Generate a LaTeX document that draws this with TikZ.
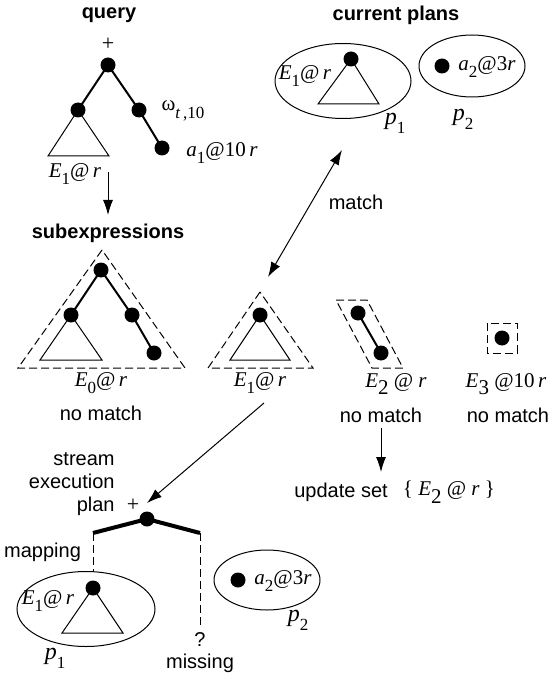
\documentclass[tikz,border=0pt]{standalone}
\usepackage{fontspec}
\setmainfont{Liberation Serif}
\setsansfont{Liberation Sans}
\usetikzlibrary{arrows.meta, positioning, calc, shapes.geometric}
\newcommand{\vsub}[1]{\raisebox{-0.8ex}{\fontsize{8.5}{8}\selectfont #1}}
\newcommand{\bigsub}[1]{\raisebox{-0.8ex}{\fontsize{10.5}{10}\selectfont #1}}
\newcommand{\expr}[2]{\textit{#1}\vsub{#2}}

\begin{document}
\begin{tikzpicture}[x=0.5pt, y=-0.5pt, every node/.style={font=\sffamily\fontsize{10}{11.5}\selectfont},
  dot/.style={circle, fill=black, inner sep=0pt, minimum size=7.5pt},
  title/.style={font=\sffamily\bfseries\fontsize{10}{12}\selectfont},
  mlabel/.style={font=\rmfamily\fontsize{10.5}{12}\selectfont, inner sep=0pt},
  pname/.style={font=\rmfamily\fontsize{12}{12}\selectfont, inner sep=0pt},
  plan/.style={draw, ellipse, line width=0.5pt, inner sep=0pt},
  hull/.style={draw, line width=0.5pt, dash pattern=on 4pt off 2pt},
  edge/.style={line width=1pt},
  tri/.style={line width=0.5pt},
  arr/.style={line width=0.5pt, -{Latex[length=7.5pt,width=5pt]}},
  darr/.style={line width=0.5pt, {Latex[length=7.5pt,width=5pt]}-{Latex[length=7.5pt,width=5pt]}}]
  \useasboundingbox (0,0) rectangle (551,684);

  \node[title] (qtitle) at (109,15) {query};
  \node[font=\rmfamily\fontsize{11}{11}\selectfont] (qplus) at (108,44) {+};
  \draw[tri] (78,110) -- (48,156) -- (109,156) -- cycle;
  \node[dot] (q0) at (108,65) {};
  \node[dot] (q1) at (78,110) {};
  \node[dot] (q2) at (139,110) {};
  \node[dot] (q3) at (162,148) {};
  \draw[edge] (q1.center) -- (q0.center) -- (q2.center) -- (q3.center);
  \node[mlabel] (qomega) at (183,111) {ω\vsub{\textit{t}\,,10}};
  \node[mlabel] (qa1) at (222,153) {\expr{a}{1}@10\,\textit{r}};
  \node[mlabel] (qe1) at (75,174) {\expr{E}{1}@\,\textit{r}};
  \coordinate (qarrs) at (108,172);
  \coordinate (qarre) at (108,215);
  \draw[arr] (qarrs) -- (qarre);

  \node[title] (stitle) at (108,233) {subexpressions};
  \draw[hull] (102,250) -- (18,368) -- (185,368) -- cycle;
  \draw[tri] (71,315) -- (40,360) -- (102,360) -- cycle;
  \node[dot] (s0) at (101,270) {};
  \node[dot] (s1) at (71,315) {};
  \node[dot] (s2) at (132,315) {};
  \node[dot] (s3) at (154,353) {};
  \draw[edge] (s1.center) -- (s0.center) -- (s2.center) -- (s3.center);
  \node[mlabel] (e0lbl) at (101,383) {\expr{E}{0}@\,\textit{r}};
  \node (e0nm) at (101,413) {no match};

  \draw[hull] (260,292) -- (208,368) -- (313,368) -- cycle;
  \draw[tri] (260,315) -- (230,360) -- (290,360) -- cycle;
  \node[dot] (t0) at (260,315) {};
  \node[mlabel] (e1lbl) at (260,383) {\expr{E}{1}@\,\textit{r}};

  \draw[hull] (336,300) -- (367,300) -- (403,368) -- (372,368) -- cycle;
  \node[dot] (u0) at (358,313) {};
  \node[dot] (u1) at (381,353) {};
  \draw[edge] (u0.center) -- (u1.center);
  \node[mlabel] (e2lbl) at (396,384) {\textit{E}\bigsub{2} @ \textit{r}};
  \node (e2nm) at (381,415) {no match};

  \draw[hull] (487,323) rectangle (517,353);
  \node[dot] (v0) at (502,338) {};
  \node[mlabel] (e3lbl) at (506,384) {\textit{E}\bigsub{3} @10\,\textit{r}};
  \node (e3nm) at (508,415) {no match};

  \coordinate (uarrs) at (381,428);
  \coordinate (uarre) at (381,472);
  \draw[arr] (uarrs) -- (uarre);
  \node (upd) at (341,492) {update set};
  \node[mlabel] (updset) at (449,492) {\{ \textit{E}\bigsub{2} @ \textit{r} \}};

  \node[title] (ctitle) at (396,15) {current plans};
  \node[plan, minimum width=68pt, minimum height=37.5pt] (p1) at (343,81) {};
  \draw[tri] (351,59) -- (318,104) -- (379,104) -- cycle;
  \node[dot] (p1r) at (351,59) {};
  \node[mlabel] (p1e) at (305,76) {\expr{E}{1}@\,\textit{r}};
  \node[pname] (p1name) at (395,123) {\expr{p}{1}};
  \node[plan, minimum width=53pt, minimum height=31pt] (p2) at (472,66) {};
  \node[dot] (p2r) at (442,66) {};
  \node[mlabel] (p2a) at (487,67) {\expr{a}{2}@3\textit{r}};
  \node[pname] (p2name) at (463,119) {\expr{p}{2}};

  \coordinate (mtop) at (342,150);
  \coordinate (mbot) at (268,277);
  \draw[darr] (mtop) -- (mbot);
  \node (mlbl) at (356,202) {match};

  \coordinate (xs) at (264,403);
  \coordinate (xe) at (147,503);
  \draw[arr] (xs) -- (xe);

  \node[align=right, anchor=east, inner sep=0pt] (seplbl) at (115,484) {stream\\execution\\plan};
  \node[font=\rmfamily\fontsize{11}{11}\selectfont] (spplus) at (133,505) {+};
  \node[dot] (r0) at (147,519) {};
  \coordinate (rl) at (93,533);
  \coordinate (rr) at (200,533);
  \draw[line width=2pt] (rl) -- (r0.center) -- (rr);
  \node[anchor=east] (maplbl) at (88,552) {mapping};

  \node[plan, minimum width=69pt, minimum height=37.5pt] (pb1) at (86,609) {};
  \draw[tri] (93,588) -- (62,633) -- (123,633) -- cycle;
  \node[dot] (pb1r) at (93,588) {};
  \node[mlabel] (pb1e) at (48,601) {\expr{E}{1}@\,\textit{r}};
  \node[pname] (pb1name) at (55,658) {\expr{p}{1}};
  \draw[hull] (rl) -- (rl |- pb1.north);

  \node (qmark) at (200,640) {?};
  \node (missing) at (200,663) {missing};
  \draw[hull] (rr) -- (qmark.north);

  \node[plan, minimum width=53pt, minimum height=30pt] (pb2) at (267,580) {};
  \node[dot] (pb2r) at (238,580) {};
  \node[mlabel] (pb2a) at (283,581) {\expr{a}{2}@3\textit{r}};
  \node[pname] (pb2name) at (298,620) {\expr{p}{2}};
\end{tikzpicture}
\end{document}
